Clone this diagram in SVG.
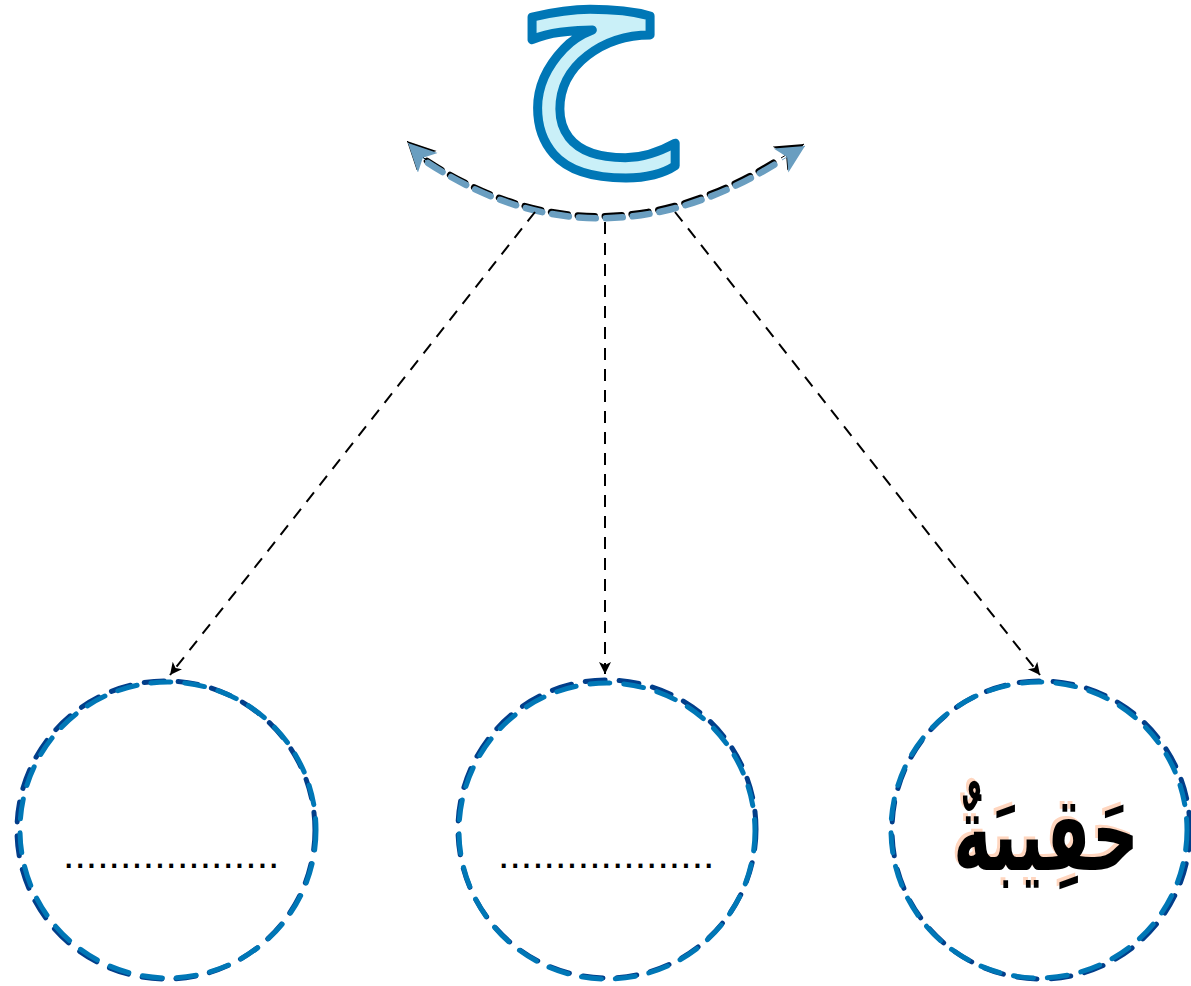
<svg xmlns="http://www.w3.org/2000/svg" width="1191" height="986" viewBox="0 0 1191 986">
<style>
.conn{fill:none;stroke:#000;stroke-width:2;stroke-dasharray:12 9}
.ring1{fill:none;stroke:#023e8a;stroke-width:5;stroke-dasharray:20 14;stroke-linecap:round}
.ring2{fill:none;stroke:#0077b6;stroke-width:5;stroke-dasharray:20 14;stroke-linecap:round}
.dots{font-family:"Liberation Sans",Arial,sans-serif;font-size:41px;fill:#000}
.ar{font-family:"DejaVu Sans","Noto Sans",sans-serif}
</style>
<defs>
<marker id="ah" markerUnits="userSpaceOnUse" markerWidth="14" markerHeight="14" refX="12" refY="6" orient="auto">
<path d="M0,0 L12,6 L0,12 L3,6 Z" fill="#000"/>
</marker>
<marker id="bh" markerUnits="userSpaceOnUse" markerWidth="34" markerHeight="34" refX="28" refY="14" orient="auto">
<path d="M0,0 L28,14 L0,28 L7,14 Z" fill="#6a9ec0"/>
</marker>
<marker id="kh" markerUnits="userSpaceOnUse" markerWidth="34" markerHeight="34" refX="28" refY="14" orient="auto">
<path d="M0,0 L28,14 L0,28 L7,14 Z" fill="#000"/>
</marker>
</defs>
<g id="letter">
<text class="ar" x="594" y="116" text-anchor="middle" font-size="252" fill="#caf0f8" stroke="#0077b6" stroke-width="9" stroke-linejoin="round">ح</text>
</g>
<g id="connectors">
<g transform="translate(-1,-2)">
<path d="M428,163 Q600,275 782,160" fill="none" stroke="#000" stroke-width="6.5" stroke-dasharray="17 10" stroke-linecap="round"/>
<path d="M428,163 L408,143" stroke="#000" stroke-width="1" marker-end="url(#kh)"/>
<path d="M782,160 L805,146" stroke="#000" stroke-width="1" marker-end="url(#kh)"/>
</g>
<path d="M428,163 Q600,275 782,160" fill="none" stroke="#6a9ec0" stroke-width="6.5" stroke-dasharray="17 10" stroke-linecap="round"/>
<path d="M428,163 L408,143" stroke="#6a9ec0" stroke-width="1" marker-end="url(#bh)"/>
<path d="M782,160 L805,146" stroke="#6a9ec0" stroke-width="1" marker-end="url(#bh)"/>
<line class="conn" x1="535" y1="212" x2="170" y2="675" marker-end="url(#ah)"/>
<line class="conn" x1="605" y1="222" x2="605" y2="674" marker-end="url(#ah)"/>
<line class="conn" x1="675" y1="212" x2="1040" y2="675" marker-end="url(#ah)"/>
</g>
<g id="node1">
<circle class="ring1" cx="166" cy="830" r="149"/>
<circle class="ring2" cx="168" cy="830" r="148"/>
<text class="dots" x="63" y="868">...................</text>
</g>
<g id="node2">
<circle class="ring1" cx="607" cy="829" r="149"/>
<circle class="ring2" cx="607" cy="831" r="148"/>
<text class="dots" x="498" y="868">...................</text>
</g>
<g id="node3">
<circle class="ring1" cx="1041" cy="830" r="149"/>
<circle class="ring2" cx="1039" cy="830" r="148"/>
<g transform="translate(1046,838) scale(0.9,1.45)">
<text class="ar" x="-3" y="20" text-anchor="middle" font-size="72" font-weight="bold" fill="#ffd6bf">حَقِيبَةٌ</text>
<text class="ar" x="0" y="22" text-anchor="middle" font-size="72" font-weight="bold" fill="#000">حَقِيبَةٌ</text>
</g>
</g>
</svg>
